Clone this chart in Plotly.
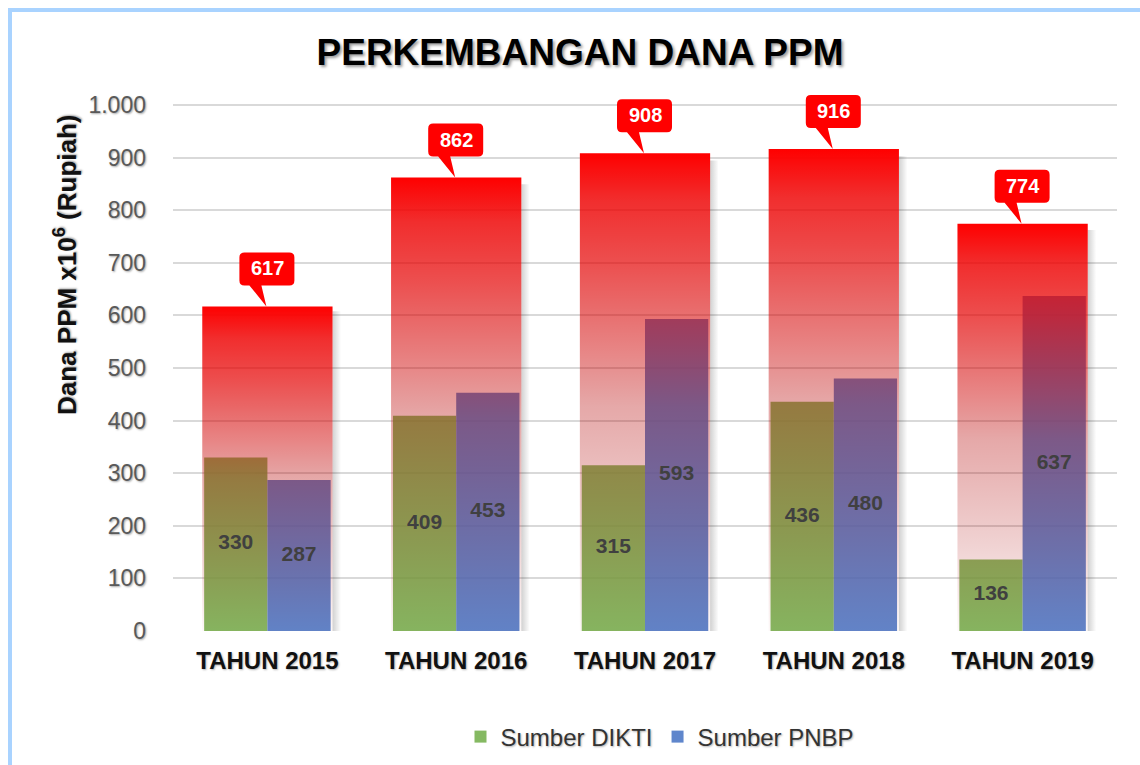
import plotly.graph_objects as go

categories = ["TAHUN 2015", "TAHUN 2016", "TAHUN 2017", "TAHUN 2018", "TAHUN 2019"]
total_ppm = [617, 862, 908, 916, 774]
sumber_dikti = [330, 409, 315, 436, 136]
sumber_pnbp = [287, 453, 593, 480, 637]
y_ticks = [0, 100, 200, 300, 400, 500, 600, 700, 800, 900, 1000]

FONT = "Liberation Sans, Arial, sans-serif"
GREEN = "#70AD47"
BLUE = "#4472C4"
idx = list(range(len(categories)))
HALF_TOTAL = 0.345
BAR_W = 0.335

# plot area geometry (pixels) -> paper fractions for decorations
W, H = 1140, 765
PLOT_TOP, PLOT_BOTTOM, PLOT_LEFT, PLOT_RIGHT = 26, 631, 173, 1117
PH = PLOT_BOTTOM - PLOT_TOP
PW = PLOT_RIGHT - PLOT_LEFT

fig = go.Figure()

# green / blue bars
fig.add_trace(go.Bar(
    x=[i - BAR_W / 2 for i in idx], y=sumber_dikti, width=BAR_W,
    name="Sumber DIKTI", marker=dict(color=GREEN, line=dict(width=0)), opacity=0.85,
    hoverinfo="y"))
fig.add_trace(go.Bar(
    x=[i + BAR_W / 2 for i in idx], y=sumber_pnbp, width=BAR_W,
    name="Sumber PNBP", marker=dict(color=BLUE, line=dict(width=0)), opacity=0.85,
    hoverinfo="y"))

red_scale = [[0, "rgba(170,0,0,0.03)"], [0.2, "rgba(170,0,0,0.17)"],
             [0.47, "rgba(180,0,0,0.34)"], [0.58, "rgba(205,0,0,0.47)"],
             [0.77, "rgba(228,0,0,0.69)"], [0.9, "rgba(238,0,0,0.82)"],
             [1, "rgba(255,0,0,1)"]]

# total bars: red gradient on top
for i, t in zip(idx, total_ppm):
    fig.add_trace(go.Scatter(
        x=[i + HALF_TOTAL, i + HALF_TOTAL + 0.045, i + HALF_TOTAL + 0.045, i + HALF_TOTAL, i + HALF_TOTAL],
        y=[0, 0, t * 0.985, t * 0.985, 0],
        mode="lines", line=dict(width=0), fill="toself",
        fillgradient=dict(type="horizontal",
                          colorscale=[[0, "rgba(0,0,0,0.18)"], [1, "rgba(0,0,0,0)"]]),
        hoverinfo="skip", showlegend=False))
    fig.add_trace(go.Scatter(
        x=[i - HALF_TOTAL, i + HALF_TOTAL, i + HALF_TOTAL, i - HALF_TOTAL, i - HALF_TOTAL],
        y=[0, 0, t, t, 0],
        mode="lines", line=dict(width=0), fill="toself",
        fillgradient=dict(type="vertical", colorscale=red_scale),
        hoverinfo="skip", showlegend=False))

# value labels on top of everything
fig.add_trace(go.Scatter(
    x=[i - BAR_W / 2 for i in idx] + [i + BAR_W / 2 for i in idx],
    y=[v / 2 for v in sumber_dikti] + [v / 2 for v in sumber_pnbp],
    text=[str(v) for v in sumber_dikti] + [str(v) for v in sumber_pnbp],
    mode="text", textfont=dict(family=FONT, size=21, color="#404040", weight="bold"),
    hoverinfo="skip", showlegend=False))

# callouts
callout_path = ("M -23,21 L -18,21 L -1,0 L -6,21 L 22,21 Q 27,21 27,26 L 27,49 "
                "Q 27,54 22,54 L -23,54 Q -28,54 -28,49 L -28,26 Q -28,21 -23,21 Z")
for i, t in zip(idx, total_ppm):
    fig.add_shape(type="path", xref="x", yref="y", xsizemode="pixel", ysizemode="pixel",
                  xanchor=i, yanchor=t, path=callout_path,
                  fillcolor="#FF0000", line=dict(width=0), layer="above")
    fig.add_annotation(x=i, y=t, yshift=38, xshift=0, text=str(t), showarrow=False,
                       font=dict(family=FONT, size=20, color="white", weight="bold"))

# outer light-blue frame
fig.add_shape(type="rect", xref="paper", yref="paper",
              x0=(10 - PLOT_LEFT) / PW, x1=1.2, y0=-0.5, y1=(PLOT_BOTTOM - 10) / PH,
              line=dict(color="#A9D3FF", width=4), fillcolor="rgba(0,0,0,0)", layer="below")

# y axis title
fig.add_annotation(xref="paper", yref="paper", x=(65 - PLOT_LEFT) / PW,
                   y=(PLOT_BOTTOM - 265) / PH, xanchor="center", yanchor="middle",
                   text="Dana PPM x10<sup>6</sup> (Rupiah)", textangle=-90, showarrow=False,
                   font=dict(family=FONT, size=26, color="#111111", weight="bold",
                             shadow="1px 1px 2px rgba(0,0,0,0.35)"))

fig.update_layout(
    width=W, height=H,
    margin=dict(l=PLOT_LEFT, r=W - PLOT_RIGHT, t=PLOT_TOP, b=H - PLOT_BOTTOM),
    paper_bgcolor="white", plot_bgcolor="white",
    separators=",.",
    barmode="overlay",
    title=dict(text="<b>PERKEMBANGAN DANA PPM</b>", x=580 / W, xref="container",
               y=1 - 52 / H, yref="container", xanchor="center", yanchor="middle",
               font=dict(family=FONT, size=37, color="black",
                         shadow="2px 2px 3px rgba(0,0,0,0.4)")),
    legend=dict(orientation="h", xref="container", yref="container",
                x=660 / W, y=1 - 737 / H, xanchor="center", yanchor="middle",
                font=dict(family=FONT, size=24, color="#333333",
                          shadow="1px 1px 2px rgba(0,0,0,0.3)"),
                itemwidth=30, traceorder="normal"),
    xaxis=dict(range=[-0.5, 4.5], tickvals=idx, ticktext=categories,
               showgrid=False, zeroline=False, showline=False, ticks="",
               ticklabelstandoff=13, automargin=False,
               tickfont=dict(family=FONT, size=24, color="#111111", weight="bold",
                             shadow="1px 1px 2px rgba(0,0,0,0.3)")),
    yaxis=dict(range=[0, 1150], tickvals=y_ticks, separatethousands=True,
               showgrid=True, gridcolor="#D9D9D9", gridwidth=2, zeroline=False,
               showline=False, ticks="", ticklabelstandoff=26, automargin=False,
               tickfont=dict(family=FONT, size=23, color="#595959",
                             shadow="1px 1px 2px rgba(0,0,0,0.35)")),
    showlegend=True,
)

fig.write_html("out.html", config={"displayModeBar": False},
               post_script="document.body.style.margin='0';")
